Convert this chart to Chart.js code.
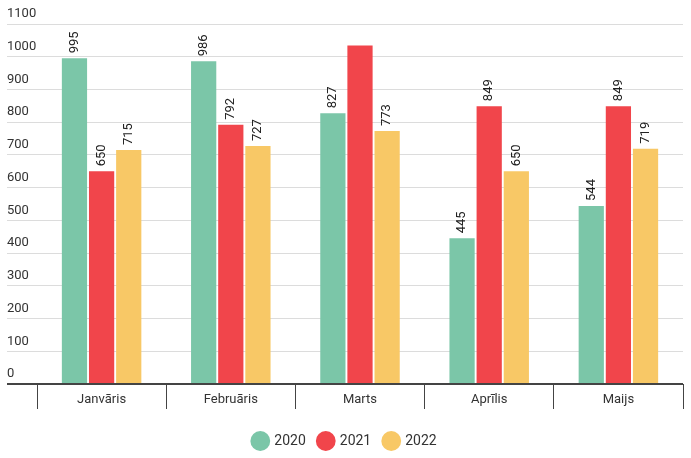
<!DOCTYPE html>
<html>
<head>
<meta charset="utf-8">
<script src="https://cdn.jsdelivr.net/npm/chart.js@4"></script>
<style>
  body { margin: 0; background: #fff; }
</style>
</head>
<body>
<canvas id="barChart" width="691" height="458"></canvas>
<script>
const months = ['Janvāris', 'Februāris', 'Marts', 'Aprīlis', 'Maijs'];
const years = ['2020', '2021', '2022'];
const values2020 = [995, 986, 827, 445, 544];
const values2021 = [650, 792, 1034, 849, 849];
const values2022 = [715, 727, 773, 650, 719];
const colors = ['#7bc6a8', '#f1454b', '#f8c866'];

// rotated value labels above the bars, hidden when they would run past the top
const barLabels = {
    id: 'barLabels',
    afterDatasetsDraw(chart) {
        const ctx = chart.ctx;
        const top = chart.chartArea.top;
        ctx.save();
        ctx.font = '13px Roboto';
        ctx.fillStyle = '#222';
        ctx.textAlign = 'left';
        ctx.textBaseline = 'middle';
        chart.data.datasets.forEach((ds, i) => {
            chart.getDatasetMeta(i).data.forEach((bar, j) => {
                const text = String(ds.data[j]);
                const w = ctx.measureText(text).width;
                const y = bar.y - 5;
                if (y - w < top) return;
                ctx.save();
                ctx.translate(bar.x, y);
                ctx.rotate(-Math.PI / 2);
                ctx.fillText(text, 0, 0);
                ctx.restore();
            });
        });
        ctx.restore();
    }
};

const ctx = document.getElementById('barChart').getContext('2d');
new Chart(ctx, {
    type: 'bar',
    data: {
        labels: months,
        datasets: [values2020, values2021, values2022].map((vals, i) => ({
            label: years[i],
            data: vals,
            backgroundColor: colors[i],
            categoryPercentage: 0.63,
            barPercentage: 0.93
        }))
    },
    options: {
        responsive: false,
        animation: false,
        layout: { padding: { left: 7, right: 8, top: 24, bottom: 0 } },
        plugins: {
            tooltip: { enabled: false },
            legend: {
                position: 'bottom',
                labels: {
                    usePointStyle: true,
                    pointStyle: 'circle',
                    boxWidth: 15,
                    boxHeight: 15,
                    padding: 13,
                    color: '#333',
                    font: { family: 'Roboto', size: 14 }
                }
            }
        },
        scales: {
            x: {
                grid: {
                    offset: true,
                    drawOnChartArea: false,
                    tickLength: 25,
                    color: '#444'
                },
                border: { display: false },
                ticks: {
                    padding: -17,
                    maxRotation: 0,
                    minRotation: 0,
                    autoSkip: false,
                    color: '#333',
                    font: { family: 'Roboto', size: 13 }
                },
                afterFit(scale) { scale.height = 37; }
            },
            y: {
                min: 0,
                max: 1100,
                afterFit(scale) { scale.width = 30; },
                grid: {
                    tickLength: 30,
                    color: c => c.tick && c.tick.value === 0 ? '#444' : '#dcdcdc',
                    lineWidth: c => c.tick && c.tick.value === 0 ? 2 : 1
                },
                border: { display: false },
                ticks: {
                    stepSize: 100,
                    crossAlign: 'far',
                    labelOffset: -10,
                    color: '#333',
                    font: { family: 'Roboto', size: 13 },
                    callback: v => String(v)
                }
            }
        }
    },
    plugins: [barLabels]
});
</script>
</body>
</html>
